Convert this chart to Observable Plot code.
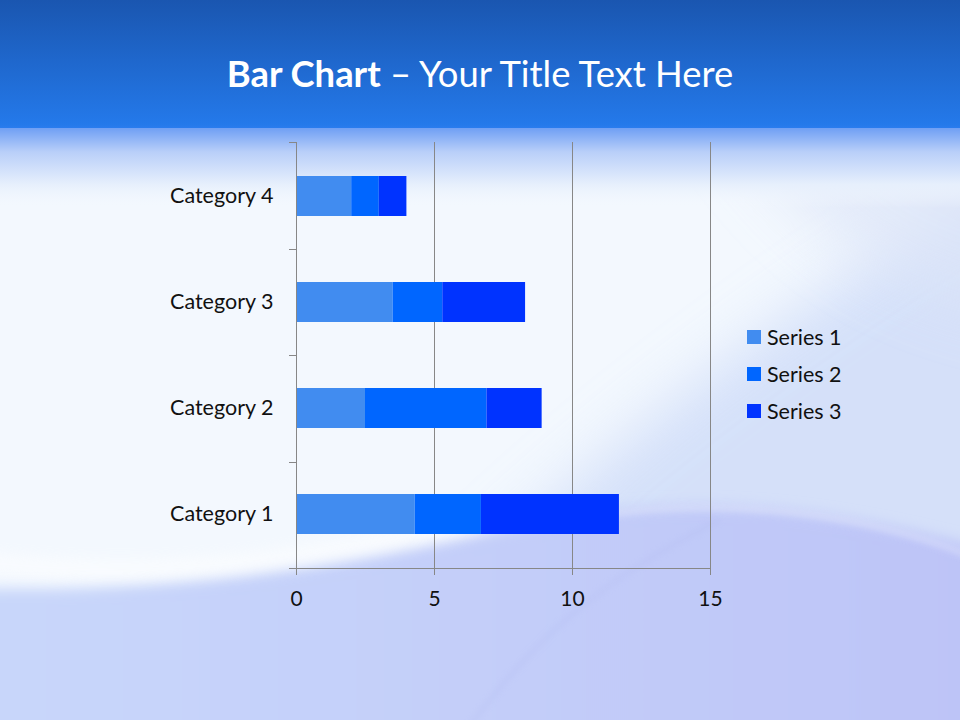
<!DOCTYPE html>
<html>
<head>
<meta charset="utf-8">
<script src="https://cdn.jsdelivr.net/npm/d3@7"></script>
<script src="https://cdn.jsdelivr.net/npm/@observablehq/plot@0.6"></script>
<style>
  html, body { margin: 0; padding: 0; }
  #slide {
    position: relative; width: 960px; height: 720px; overflow: hidden;
    font-family: "Lato", "Open Sans", sans-serif;
    background: #f3f8fe;
  }
  #bg { position: absolute; left: 0; top: 0; }
  #title {
    position: absolute; left: 0; width: 960px; top: 53px; text-align: center;
    color: #fff; font-size: 36.4px; line-height: 40px; white-space: nowrap;
  }
  #title b { font-weight: 700; }
  #chart { position: absolute; left: 0; top: 0; }
  #legend { position: absolute; left: 747px; top: 318px; }
  .row { display: flex; align-items: center; height: 37px; font-size: 21.5px; color: #111; }
  .sw { width: 14px; height: 14px; margin-right: 6px; }
</style>
</head>
<body>
<div id="slide">
  <svg id="bg" width="960" height="720" viewBox="0 0 960 720">
    <defs>
      <filter id="b30" filterUnits="userSpaceOnUse" x="-300" y="-300" width="1560" height="1320"><feGaussianBlur stdDeviation="30"/></filter>
      <filter id="b8" filterUnits="userSpaceOnUse" x="-300" y="-300" width="1560" height="1320"><feGaussianBlur stdDeviation="7"/></filter>
      <filter id="b3" filterUnits="userSpaceOnUse" x="-300" y="-300" width="1560" height="1320"><feGaussianBlur stdDeviation="3"/></filter>
      <linearGradient id="lowgrad" x1="0" y1="0" x2="1" y2="0">
        <stop offset="0" stop-color="#c9d8fa"/>
        <stop offset="0.45" stop-color="#c4cff9"/>
        <stop offset="1" stop-color="#bcc2f7"/>
      </linearGradient>
      <linearGradient id="headgrad" x1="0" y1="0" x2="0" y2="1">
        <stop offset="0" stop-color="#1a56b0"/>
        <stop offset="0.97" stop-color="#2479ea"/>
        <stop offset="1" stop-color="#2a7cee"/>
      </linearGradient>
      <linearGradient id="fadegrad" x1="0" y1="0" x2="0" y2="1">
        <stop offset="0" stop-color="#6f9ff4"/>
        <stop offset="0.3" stop-color="#b9cff9"/>
        <stop offset="0.7" stop-color="#e6effc"/>
        <stop offset="1" stop-color="#f3f8fe" stop-opacity="0"/>
      </linearGradient>
      <clipPath id="below"><rect x="0" y="128" width="960" height="592"/></clipPath>
    </defs>
    <g clip-path="url(#below)">
      <path d="M260,820 C440,580 650,380 1100,120 L1100,820 Z" fill="#cbd9f8" opacity="0.75" filter="url(#b30)"/>
      <path d="M680,40 L1100,40 L1100,330 C900,300 800,260 680,40 Z" fill="#dde5f8" opacity="0.7" filter="url(#b30)"/>
      <path d="M-100,585 C160,602 360,560 560,518 C710,492 850,508 1060,570 L1060,820 L-100,820 Z" fill="url(#lowgrad)" filter="url(#b8)"/>
      <path d="M-50,558 C150,585 320,560 480,520" stroke="#ffffff" stroke-width="18" fill="none" opacity="0.55" filter="url(#b8)"/>
      <path d="M600,515 C720,498 860,510 980,560" stroke="#dfe3fb" stroke-width="5" fill="none" opacity="0.6" filter="url(#b3)"/>
      <path d="M460,740 C530,640 600,580 720,520" stroke="#aeb6ee" stroke-width="3" fill="none" opacity="0.35" filter="url(#b3)"/>
    </g>
    <rect x="0" y="128" width="960" height="80" fill="url(#fadegrad)"/>
    <rect x="0" y="0" width="960" height="128" fill="url(#headgrad)"/>
  </svg>
  <div id="title"><b>Bar Chart</b> – Your Title Text Here</div>
  <div id="chart"></div>
  <div id="legend"></div>
</div>
<script>
const categories = ["Category 1", "Category 2", "Category 3", "Category 4"];
const seriesNames = ["Series 1", "Series 2", "Series 3"];
const series1 = [4.3, 2.5, 3.5, 2];
const series2 = [2.4, 4.4, 1.8, 1];
const series3 = [5, 2, 3, 1];
const xTicks = [0, 5, 10, 15];
const seriesColors = ["#418cf0", "#0066ff", "#0033ff"];

const seriesValues = [series1, series2, series3];
const data = [];
categories.forEach((c, i) => {
  seriesNames.forEach((s, j) => data.push({category: c, series: s, value: seriesValues[j][i]}));
});

const lineColor = "#878787";

function yBoundaryTicks(index, scales, values, dim) {
  const g = d3.create("svg:g").attr("stroke", lineColor).attr("stroke-width", 1);
  const n = categories.length;
  const inner = dim.height - dim.marginTop - dim.marginBottom;
  const step = inner / n;
  for (let i = 0; i <= n; i++) {
    const b = Math.round(dim.marginTop + i * step) + 0.5;
    g.append("line")
      .attr("x1", dim.marginLeft - 7).attr("x2", dim.marginLeft)
      .attr("y1", b).attr("y2", b);
  }
  return g.node();
}

const plot = Plot.plot({
  width: 960,
  height: 720,
  marginLeft: 296,
  marginRight: 250,
  marginTop: 142,
  marginBottom: 152,
  style: {background: "transparent", fontFamily: "Lato, 'Open Sans', sans-serif", color: "#111"},
  x: {domain: [0, 15], ticks: xTicks, label: null},
  y: {domain: categories.slice().reverse(), paddingInner: 0.624, paddingOuter: 0.312, label: null},
  color: {domain: seriesNames, range: seriesColors},
  marks: [
    Plot.gridX(xTicks.filter(d => d > 0), {stroke: lineColor, strokeOpacity: 1}),
    Plot.barX(data, Plot.stackX({x: "value", y: "category", fill: "series"})),
    Plot.ruleX([0], {stroke: lineColor}),
    Plot.frame({anchor: "bottom", stroke: lineColor}),
    yBoundaryTicks,
    Plot.axisX({ticks: xTicks, tickSize: 7, tickPadding: 16, stroke: lineColor, fill: "#111", fontSize: 21, label: null}),
    Plot.axisY({tickSize: 0, tickPadding: 23, fill: "#111", fontSize: 21.5, label: null})
  ]
});
document.getElementById("chart").appendChild(plot);

const legend = d3.select("#legend");
seriesNames.forEach((s, i) => {
  const row = legend.append("div").attr("class", "row");
  row.append("div").attr("class", "sw").style("background", seriesColors[i]);
  row.append("span").text(s);
});
</script>
</body>
</html>
